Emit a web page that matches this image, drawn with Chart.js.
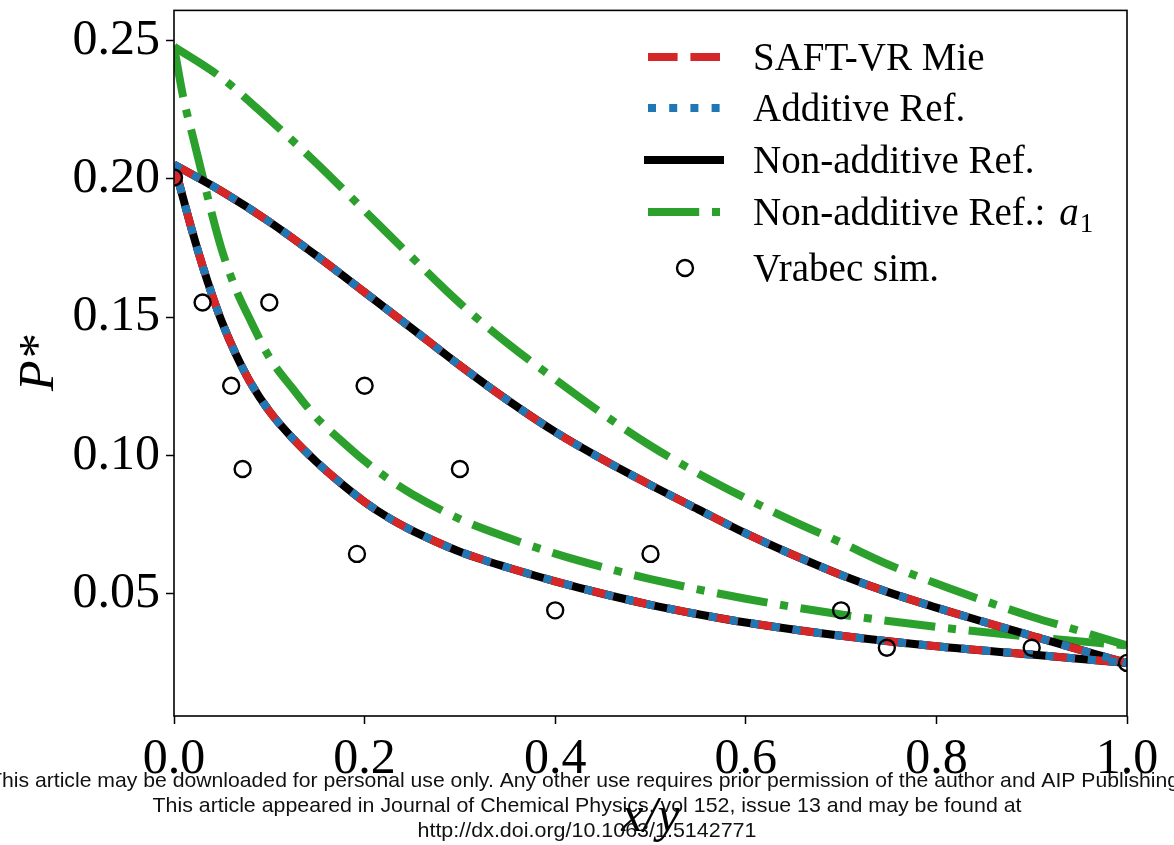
<!DOCTYPE html>
<html>
<head>
<meta charset="utf-8">
<script src="https://cdn.jsdelivr.net/npm/chart.js@4.4.1/dist/chart.umd.min.js"></script>
<style>
  html, body { margin: 0; padding: 0; background: #fff; }
  #wrap { width: 1174px; height: 845px; position: relative; }
</style>
</head>
<body>
<div id="wrap"><canvas id="myChart"></canvas></div>
<script>
// datos (x/y, P*)
var xModelUp = [0, 0.05, 0.1, 0.15, 0.2, 0.25, 0.3, 0.35, 0.4, 0.45, 0.5, 0.55, 0.6, 0.65, 0.7, 0.75, 0.8, 0.85, 0.9, 0.95, 1.0];
var pModelUp = [0.2052, 0.1955, 0.1845, 0.1721, 0.1590, 0.1458, 0.1325, 0.1200, 0.1085, 0.0985, 0.0893, 0.0805, 0.0718, 0.0640, 0.0568, 0.0505, 0.0450, 0.0398, 0.0348, 0.0298, 0.0250];

var xModelLow = [0, 0.01, 0.02, 0.03, 0.04, 0.05, 0.065, 0.08, 0.1, 0.125, 0.15, 0.175, 0.2, 0.225, 0.25, 0.275, 0.3, 0.325, 0.35, 0.4, 0.45, 0.5, 0.55, 0.6, 0.7, 0.8, 0.9, 1.0];
var pModelLow = [0.2052, 0.1925, 0.1800, 0.1685, 0.1580, 0.1485, 0.1365, 0.1265, 0.1160, 0.1060, 0.0975, 0.0900, 0.0832, 0.0775, 0.0728, 0.0688, 0.0652, 0.0622, 0.0595, 0.0545, 0.0500, 0.0460, 0.0426, 0.0396, 0.0348, 0.0310, 0.0280, 0.0250];

var xA1Up = [0, 0.05, 0.1, 0.15, 0.2, 0.25, 0.3, 0.35, 0.4, 0.45, 0.5, 0.55, 0.6, 0.65, 0.7, 0.75, 0.8, 0.85, 0.9, 0.95, 1.0];
var pA1Up = [0.2478, 0.2365, 0.2215, 0.2055, 0.1885, 0.1715, 0.1550, 0.1405, 0.1275, 0.1150, 0.1035, 0.0935, 0.0845, 0.0762, 0.0685, 0.0605, 0.0537, 0.0475, 0.0417, 0.0366, 0.0313];

var xA1Low = [0, 0.01, 0.02, 0.03, 0.04, 0.05, 0.065, 0.08, 0.1, 0.125, 0.15, 0.175, 0.2, 0.225, 0.25, 0.3, 0.35, 0.4, 0.45, 0.5, 0.6, 0.7, 0.8, 0.9, 1.0];
var pA1Low = [0.2478, 0.2290, 0.2150, 0.2010, 0.1870, 0.1745, 0.1600, 0.1490, 0.1355, 0.1240, 0.1135, 0.1055, 0.0980, 0.0915, 0.0860, 0.0770, 0.0703, 0.0645, 0.0596, 0.0553, 0.0482, 0.0425, 0.0380, 0.0344, 0.0313];

var xSim = [0, 0.03, 0.1, 0.06, 0.2, 0.072, 0.3, 0.192, 0.5, 0.4, 0.7, 0.748, 0.9, 1.0];
var pSim = [0.2005, 0.1553, 0.1553, 0.1252, 0.1252, 0.0951, 0.0951, 0.0644, 0.0644, 0.0440, 0.0440, 0.0305, 0.0305, 0.0250];

var xTicks = [0, 0.2, 0.4, 0.6, 0.8, 1.0];
var yTicks = [0.05, 0.10, 0.15, 0.20, 0.25];

var nombres = ["SAFT-VR Mie", "Additive Ref.", "Non-additive Ref.", "Non-additive Ref.: ", "Vrabec sim."];

var serif = "'Liberation Serif', 'DejaVu Serif', serif";

var estilos = {
  saft:  { color: '#d62728', dash: [29.6, 12.8] },
  add:   { color: '#1f77b4', dash: [8, 13.2] },
  nonad: { color: '#000000', dash: [] },
  a1:    { color: '#2ca02c', dash: [51.2, 12.8, 8, 12.8] }
};

function pts(xs, ys) {
  return xs.map(function (x, i) { return { x: x, y: ys[i] }; });
}

function linea(datos, st, orden) {
  return {
    data: datos,
    borderColor: st.color,
    backgroundColor: st.color,
    borderWidth: 8,
    borderDash: st.dash,
    borderCapStyle: 'butt',
    pointRadius: 0,
    fill: false,
    showLine: true,
    cubicInterpolationMode: 'monotone',
    order: orden
  };
}

var datasets = [
  linea(pts(xModelUp, pModelUp), estilos.saft, 3),
  linea(pts(xModelLow, pModelLow), estilos.saft, 3),
  linea(pts(xModelUp, pModelUp), estilos.add, 2),
  linea(pts(xModelLow, pModelLow), estilos.add, 2),
  linea(pts(xModelUp, pModelUp), estilos.nonad, 4),
  linea(pts(xModelLow, pModelLow), estilos.nonad, 4),
  linea(pts(xA1Up, pA1Up), estilos.a1, 5),
  linea(pts(xA1Low, pA1Low), estilos.a1, 5),
  {
    data: pts(xSim, pSim),
    showLine: false,
    pointStyle: 'circle',
    pointRadius: 8,
    pointHoverRadius: 8,
    pointBorderWidth: 2.4,
    pointBorderColor: '#000',
    pointBackgroundColor: 'rgba(0,0,0,0)',
    order: 1
  }
];

// leyenda dibujada a mano (arriba a la derecha, dentro de los ejes)
var leyenda = {
  id: 'leyenda',
  afterDraw: function (chart) {
    var ctx = chart.ctx;
    var filas = [57, 108, 160, 212, 268];
    var x0 = 648, x1 = 720, tx = 753;
    var lst = [estilos.saft, estilos.add, estilos.nonad, estilos.a1];
    ctx.save();
    for (var i = 0; i < lst.length; i++) {
      ctx.beginPath();
      ctx.setLineDash(lst[i].dash);
      ctx.lineWidth = 8;
      ctx.lineCap = lst[i].dash.length ? 'butt' : 'square';
      ctx.strokeStyle = lst[i].color;
      ctx.moveTo(x0, filas[i]);
      ctx.lineTo(x1, filas[i]);
      ctx.stroke();
    }
    ctx.setLineDash([]);
    ctx.beginPath();
    ctx.lineWidth = 2.4;
    ctx.strokeStyle = '#000';
    ctx.arc(685, filas[4], 8, 0, Math.PI * 2);
    ctx.stroke();

    ctx.fillStyle = '#000';
    ctx.textBaseline = 'alphabetic';
    ctx.textAlign = 'left';
    ctx.font = '39px ' + serif;
    for (var j = 0; j < nombres.length; j++) {
      ctx.fillText(nombres[j], tx, filas[j] + 13);
    }
    // a_1
    var w = ctx.measureText(nombres[3]).width;
    ctx.font = 'italic 39px ' + serif;
    ctx.fillText('a', tx + w + 4, filas[3] + 13);
    var wa = ctx.measureText('a').width;
    ctx.font = '27px ' + serif;
    ctx.fillText('1', tx + w + 4 + wa + 1, filas[3] + 20);
    ctx.restore();
  }
};

// marco de los ejes + texto de la revista abajo
var marco = {
  id: 'marco',
  afterDraw: function (chart) {
    var ctx = chart.ctx, a = chart.chartArea;
    ctx.save();
    ctx.strokeStyle = '#000';
    ctx.lineWidth = 1.6;
    ctx.strokeRect(a.left, a.top, a.right - a.left, a.bottom - a.top);

    ctx.fillStyle = '#111';
    ctx.font = "21px 'Liberation Sans Narrow', 'Liberation Sans', Arial, sans-serif";
    ctx.textAlign = 'center';
    ctx.textBaseline = 'middle';
    var lineas = [
      ["This article may be downloaded for personal use only. Any other use requires prior permission of the author and AIP Publishing.", 781, 1196],
      ["This article appeared in Journal of Chemical Physics, vol 152, issue 13 and may be found at", 806, 869],
      ["http://dx.doi.org/10.1063/1.5142771", 831, 339]
    ];
    lineas.forEach(function (l) {
      var m = ctx.measureText(l[0]).width;
      ctx.save();
      ctx.translate(587, l[1]);
      ctx.scale(l[2] / m, 1);
      ctx.fillText(l[0], 0, 0);
      ctx.restore();
    });
    ctx.restore();
  }
};

var ctx = document.getElementById('myChart').getContext('2d');
var myChart = new Chart(ctx, {
  type: 'scatter',
  data: { datasets: datasets },
  options: {
    responsive: true,
    maintainAspectRatio: false,
    animation: false,
    layout: { padding: { left: 0, top: 10, right: 47, bottom: 0 } },
    plugins: {
      legend: { display: false },
      tooltip: { enabled: false }
    },
    scales: {
      x: {
        type: 'linear',
        min: 0,
        max: 1,
        afterBuildTicks: function (s) { s.ticks = xTicks.map(function (v) { return { value: v }; }); },
        afterFit: function (s) { s.height = 129; s.paddingLeft = 0; s.paddingRight = 0; },
        ticks: {
          color: '#000',
          font: { family: serif, size: 50 },
          padding: 6,
          maxRotation: 0,
          autoSkip: false,
          callback: function (v) { return Number(v).toFixed(1); }
        },
        grid: { drawOnChartArea: false, drawTicks: true, tickLength: 8, tickWidth: 1.5, tickColor: '#000' },
        border: { display: false },
        title: {
          display: true,
          text: 'x/y',
          color: '#000',
          font: { family: serif, size: 50, style: 'italic' },
          padding: { top: 0, bottom: -3 }
        }
      },
      y: {
        type: 'linear',
        min: 0.0058,
        max: 0.2609,
        afterBuildTicks: function (s) { s.ticks = yTicks.map(function (v) { return { value: v }; }); },
        afterFit: function (s) { s.width = 174; s.paddingTop = 0; s.paddingBottom = 0; },
        ticks: {
          color: '#000',
          font: { family: serif, size: 50 },
          padding: 6,
          autoSkip: false,
          callback: function (v) { return Number(v).toFixed(2); }
        },
        grid: { drawOnChartArea: false, drawTicks: true, tickLength: 8, tickWidth: 1.5, tickColor: '#000' },
        border: { display: false },
        title: {
          display: true,
          text: 'P*',
          color: '#000',
          font: { family: serif, size: 50, style: 'italic' },
          padding: { top: 10, bottom: 0 }
        }
      }
    }
  },
  plugins: [leyenda, marco]
});
</script>
</body>
</html>
